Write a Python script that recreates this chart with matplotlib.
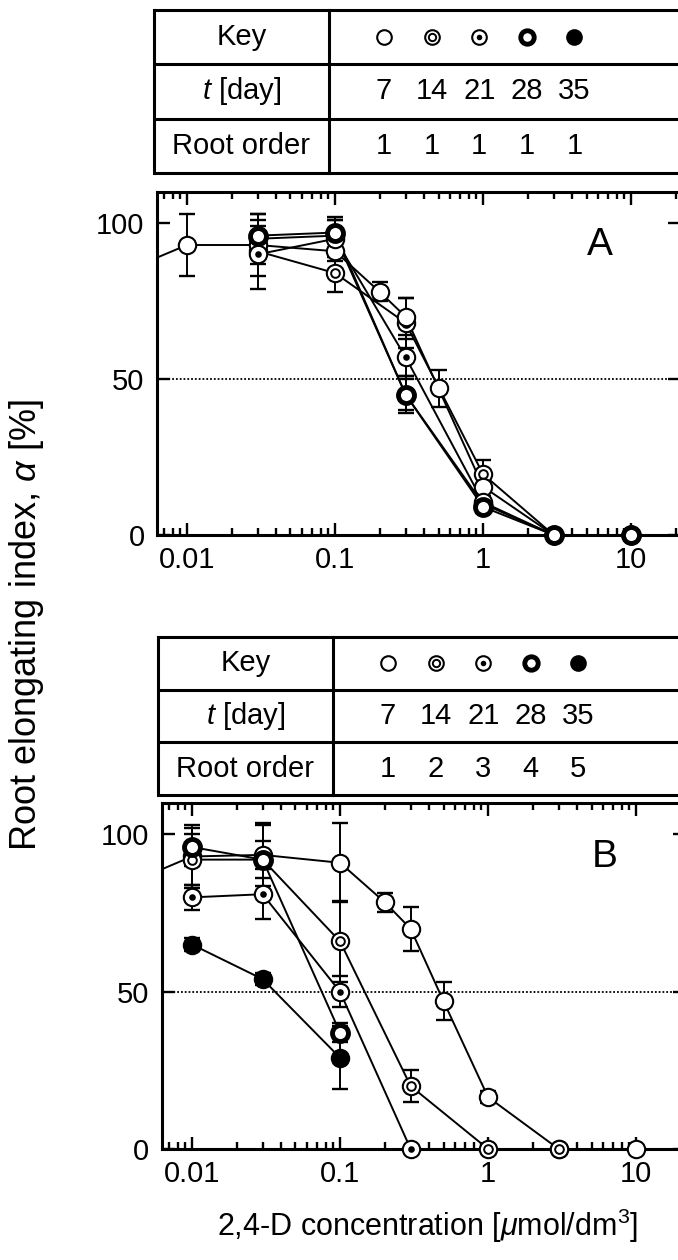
"""
Root elongating index vs 2,4-D concentration, two panels with key tables
"""

import numpy as np
import matplotlib
matplotlib.use("Agg")
import matplotlib.pyplot as plt
from matplotlib.ticker import LogLocator, NullFormatter, FixedLocator, FixedFormatter

plt.rcParams['font.family'] = ['Liberation Sans', 'DejaVu Sans']
plt.rcParams['mathtext.fontset'] = 'custom'
plt.rcParams['mathtext.rm'] = 'Liberation Sans'
plt.rcParams['mathtext.it'] = 'Liberation Sans:italic'

# --- DATA --- #
days = ['7', '14', '21', '28', '35']
order_a = ['1', '1', '1', '1', '1']
order_b = ['1', '2', '3', '4', '5']
kinds = ['open', 'double', 'dot', 'bold', 'filled']

# panel A (root order 1)
conc_a7 = [0.005, 0.01, 0.03, 0.1, 0.2, 0.3, 0.5, 1, 3, 10]
alpha_a7 = [87, 93, 93, 91, 78, 70, 47, 15.5, 0, 0]
err_a7 = [0, 10, 0, 3, 3, 6, 6, 3, 0, 0]
conc_a = [0.03, 0.1, 0.3, 1, 3, 10]
alpha_a14 = [91, 84, 68, 19.5, 0, 0]
err_a14 = [8, 6, 8, 4.5, 0, 0]
alpha_a21 = [90, 95, 57, 10.5, 0, 0]
err_a21 = [11, 6, 6, 2, 0, 0]
alpha_a28 = [96, 97, 45, 9, 0, 0]
err_a28 = [7, 5, 6, 2, 0, 0]
alpha_a35 = [95, 96, 45, 10, 0, 0]
err_a35 = [8, 5, 5, 2, 0, 0]

# panel B (root order 1..5)
conc_b1 = [0.005, 0.01, 0.03, 0.1, 0.2, 0.3, 0.5, 1, 3, 10]
alpha_b1 = [87, 93, 93.5, 91, 78.5, 70, 47, 16.5, 0, 0]
err_b1 = [0, 10, 10, 12.5, 3, 7, 6, 2, 0, 0]
conc_b2 = [0.01, 0.03, 0.1, 0.3, 1, 3]
alpha_b2 = [92, 92, 66, 20, 0, 0]
err_b2 = [8, 6, 13, 5, 0, 0]
conc_b3 = [0.01, 0.03, 0.1, 0.3]
alpha_b3 = [80, 81, 50, 0]
err_b3 = [4, 8, 5, 0]
conc_b4 = [0.01, 0.03, 0.1]
alpha_b4 = [96, 92, 37]
err_b4 = [6, 11, 3]
conc_b5 = [0.01, 0.03, 0.1]
alpha_b5 = [65, 54, 29]
err_b5 = [2, 2, 10]

xlim = (0.00627, 21.4)
ylim = (0, 110)
FS = 21

W, H = 678, 1260
fig = plt.figure(figsize=(W / 100, H / 100), dpi=100)


def px_axes(left, top, right, bottom, **kw):
    return fig.add_axes([left / W, 1 - bottom / H, (right - left) / W, (bottom - top) / H], **kw)


def draw_marker(ax, x, y, kind, ms=12.5, z=5, clip=False):
    base = dict(linestyle='none', marker='o', zorder=z, clip_on=clip)
    if kind == 'open':
        ax.plot(x, y, ms=ms, mfc='white', mec='black', mew=1.5, **base)
    elif kind == 'double':
        ax.plot(x, y, ms=ms, mfc='white', mec='black', mew=1.5, **base)
        base['zorder'] = z + 0.1
        ax.plot(x, y, ms=ms * 0.5, mfc='white', mec='black', mew=1.4, **base)
    elif kind == 'dot':
        ax.plot(x, y, ms=ms, mfc='white', mec='black', mew=1.5, **base)
        base['zorder'] = z + 0.1
        ax.plot(x, y, ms=ms * 0.38, mfc='black', mec='black', mew=0, **base)
    elif kind == 'bold':
        ax.plot(x, y, ms=ms * 0.92, mfc='white', mec='black', mew=3.5, **base)
    else:
        ax.plot(x, y, ms=ms, mfc='black', mec='black', mew=1.5, **base)


def draw_series(ax, x, y, err, kind, z):
    x = np.array(x, float)
    y = np.array(y, float)
    err = np.array(err, float)
    ax.plot(x, y, color='black', lw=1.4, zorder=2)
    m = err > 0
    ax.errorbar(x[m], y[m], yerr=err[m], fmt='none', ecolor='black',
                elinewidth=1.4, capsize=5.5, capthick=1.7, zorder=3)
    keep = x >= xlim[0]
    draw_marker(ax, x[keep], y[keep], kind, z=z)


def style_axes(ax, letter):
    ax.set_xscale('log')
    ax.set_xlim(*xlim)
    ax.set_ylim(*ylim)
    for s in ax.spines.values():
        s.set_linewidth(2.2)
    ax.xaxis.set_major_locator(FixedLocator([0.01, 0.1, 1, 10]))
    ax.xaxis.set_major_formatter(FixedFormatter(['0.01', '0.1', '1', '10']))
    ax.xaxis.set_minor_locator(LogLocator(base=10, subs=np.arange(2, 10)))
    ax.xaxis.set_minor_formatter(NullFormatter())
    ax.set_yticks([0, 50, 100])
    ax.set_yticklabels(['0', '50', '100'])
    ax.tick_params(which='both', direction='in', top=True, right=True,
                   labelsize=FS, width=1.7)
    ax.tick_params(which='major', length=9, pad=8)
    ax.tick_params(axis='y', which='major', length=9, pad=9)
    ax.tick_params(which='minor', length=5)
    ax.axhline(50, color='black', lw=1.3, ls=(0, (1, 1.1)), zorder=1)
    ax.text(0.847, 0.845, letter, transform=ax.transAxes, fontsize=28,
            ha='center', va='center')


def draw_table(ov, left, div, top, row_h, orders):
    right = 700
    ys = [top + i * row_h for i in range(4)]
    for yy in ys:
        ov.plot([left, right], [yy, yy], color='black', lw=2.2, solid_capstyle='butt')
    ov.plot([left, left], [ys[0], ys[-1]], color='black', lw=2.2)
    ov.plot([div, div], [ys[0], ys[-1]], color='black', lw=2.2)
    cx = (left + div) / 2
    mids = [(ys[i] + ys[i + 1]) / 2 for i in range(3)]
    ov.text(cx, mids[0], 'Key', ha='center', va='center', fontsize=FS)
    ov.text(cx, mids[1], '$t$ [day]', ha='center', va='center', fontsize=FS)
    ov.text(cx, mids[2], 'Root order', ha='center', va='center', fontsize=FS)
    cols = [div + 55 + 47.6 * i for i in range(5)]
    for i in range(5):
        draw_marker(ov, [cols[i]], [mids[0]], kinds[i], ms=10.5, z=5, clip=True)
        ov.text(cols[i], mids[1], days[i], ha='center', va='center', fontsize=FS)
        ov.text(cols[i], mids[2], orders[i], ha='center', va='center', fontsize=FS)


# --- TABLES (overlay in pixel coordinates) --- #
ov = fig.add_axes([0, 0, 1, 1], zorder=0)
ov.set_xlim(0, W)
ov.set_ylim(H, 0)
ov.axis('off')
draw_table(ov, 154, 329, 10, 54.3, order_a)
draw_table(ov, 158, 333, 637, 52.7, order_b)

# --- PANEL A --- #
ax_a = px_axes(157, 192, 680, 535, zorder=2)
style_axes(ax_a, 'A')
draw_series(ax_a, conc_a, alpha_a35, err_a35, 'filled', 4)
draw_series(ax_a, conc_a, alpha_a14, err_a14, 'double', 5)
draw_series(ax_a, conc_a7, alpha_a7, err_a7, 'open', 6)
draw_series(ax_a, conc_a, alpha_a21, err_a21, 'dot', 7)
draw_series(ax_a, conc_a, alpha_a28, err_a28, 'bold', 8)

# --- PANEL B --- #
ax_b = px_axes(162, 803, 685, 1149, zorder=2)
style_axes(ax_b, 'B')
draw_series(ax_b, conc_b5, alpha_b5, err_b5, 'filled', 4)
draw_series(ax_b, conc_b1, alpha_b1, err_b1, 'open', 5)
draw_series(ax_b, conc_b3, alpha_b3, err_b3, 'dot', 6)
draw_series(ax_b, conc_b2, alpha_b2, err_b2, 'double', 7)
draw_series(ax_b, conc_b4, alpha_b4, err_b4, 'bold', 8)

# --- AXIS LABELS --- #
fig.text(27 / W, 1 - 625 / H, r'Root elongating index, $\alpha$ [%]', rotation=90,
         ha='center', va='center', fontsize=26)
fig.text(428 / W, 1 - 1226 / H, r'2,4-D concentration [$\mu$mol/dm$^3$]',
         ha='center', va='center', fontsize=22)

fig.savefig('out.png', dpi=100)
